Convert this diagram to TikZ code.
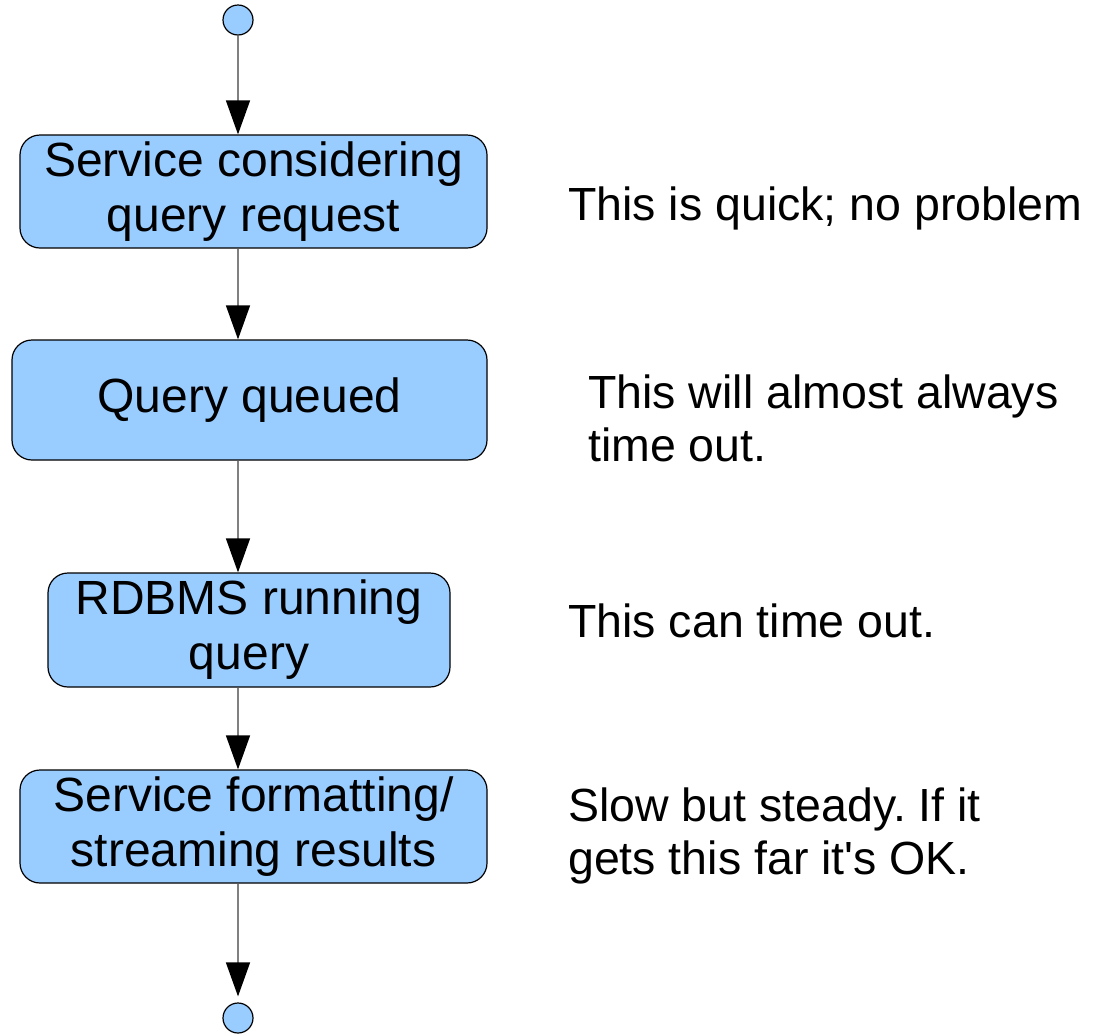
\documentclass[tikz,border=0pt]{standalone}
\usepackage{fontspec}
\setmainfont{Liberation Sans}
\usepackage{tikz}
\usetikzlibrary{arrows.meta,calc}
\usetikzlibrary{positioning}
\usetikzlibrary{shapes}
\frenchspacing
\definecolor{boxblue}{RGB}{153,204,255}
\definecolor{linegray}{RGB}{128,128,128}
\tikzset{every picture/.style={x=1pt, y=-1pt}}
\tikzstyle{activity}	= [draw=black, line width=1.2pt, fill=boxblue, rounded corners=20pt, align=center, inner sep=0pt, font=\fontsize{48}{55}\selectfont]
\tikzstyle{endpoint}	= [circle, draw=black, line width=1.2pt, fill=boxblue, minimum size=30pt, inner sep=0pt]
\tikzstyle{flow}		= [draw=linegray, line width=1.4pt, -{Triangle[length=34pt, width=24pt, color=black, fill=black]}]
\tikzstyle{note}		= [anchor=west, align=left, inner sep=0pt, font=\fontsize{46.5}{53}\selectfont]

\begin{document}
\begin{tikzpicture}
	\useasboundingbox (0,0) rectangle (1100,1034);

	% Start und Ende
	\node[endpoint] (start) at (238,20) {};
	\node[endpoint] (stop) at (238,1018) {};

	% Aktivitaeten
	\node[activity, minimum width=467pt, minimum height=113pt] (consider) at (253.5,191.5) {Service considering\\query request};
	\node[activity, minimum width=475pt, minimum height=120pt] (queued) at (249.5,400) {Query queued};
	\node[activity, minimum width=402pt, minimum height=114pt] (running) at (249,630) {RDBMS running\\query};
	\node[activity, minimum width=467pt, minimum height=113pt] (results) at (253.5,826.5) {Service formatting/\\streaming results};

	% Uebergaenge
	\draw[flow] (start) -- (start |- consider.north);
	\draw[flow] (consider.south -| start) -- (queued.north -| start);
	\draw[flow] (queued.south -| start) -- (running.north -| start);
	\draw[flow] (running.south -| start) -- (results.north -| start);
	\draw[flow, shorten >=6pt] (results.south -| start) -- (stop);

	% Kommentare
	\node[note] (quick) at (568,208) {This is quick; no problem};
	\node[note] (timeout) at (588,418) {This will almost always\\time out.};
	\node[note] (cantime) at (568,621) {This can time out.};
	\node[note] (steady) at (568,836) {Slow but steady. If it\\gets this far it\textquotesingle s OK.};
\end{tikzpicture}
\end{document}
